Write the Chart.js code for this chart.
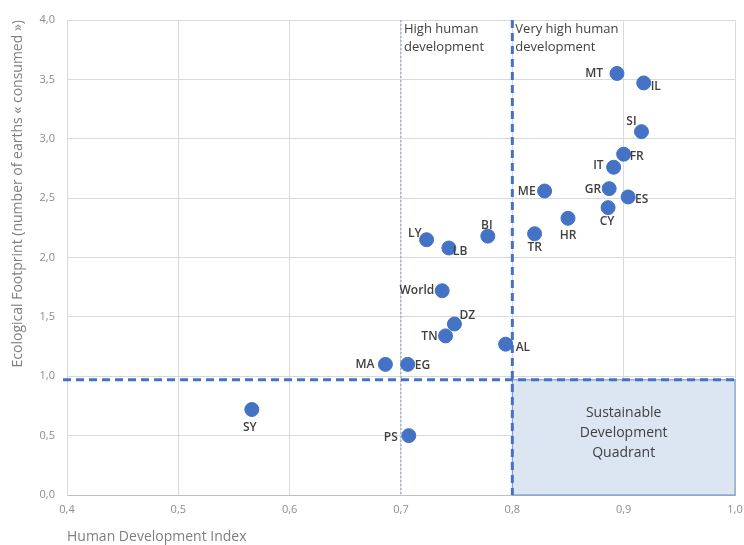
<!DOCTYPE html>
<html>
<head>
<meta charset="utf-8">
<script src="https://cdn.jsdelivr.net/npm/chart.js@4.4.1/dist/chart.umd.min.js"></script>
<style>
  html, body { margin: 0; padding: 0; background: #ffffff; }
  #wrap { width: 744px; height: 545px; }
</style>
</head>
<body>
<div id="wrap"><canvas id="hdiChart" width="744" height="545"></canvas></div>
<script>
// Country codes, Human Development Index and Ecological Footprint (earths)
const countries = ['MT', 'IL', 'SI', 'FR', 'IT', 'GR', 'ES', 'CY', 'ME', 'HR', 'TR',
                   'BI', 'LY', 'LB', 'World', 'DZ', 'TN', 'AL', 'MA', 'EG', 'SY', 'PS'];
const hdi = [0.894, 0.918, 0.916, 0.900, 0.891, 0.887, 0.904, 0.886, 0.829, 0.850, 0.820,
             0.778, 0.723, 0.743, 0.737, 0.748, 0.740, 0.794, 0.686, 0.706, 0.566, 0.707];
const footprint = [3.55, 3.47, 3.06, 2.87, 2.76, 2.58, 2.51, 2.42, 2.56, 2.33, 2.20,
                   2.18, 2.15, 2.08, 1.72, 1.44, 1.34, 1.27, 1.10, 1.10, 0.72, 0.50];

// Thresholds
const highHdi = 0.7;
const veryHighHdi = 0.8;
const earthLimit = 0.97;

const xTicks = [0.4, 0.5, 0.6, 0.7, 0.8, 0.9, 1.0];
const yTicks = [0, 0.5, 1, 1.5, 2, 2.5, 3, 3.5, 4];

const FONT = '"Open Sans", "Noto Sans", sans-serif';
const BLUE = '#4472c4';

// where each label goes relative to its dot
const labelPlace = {
    MT: { dx: -14, dy: 0, align: 'right' },
    IL: { dx: 7, dy: 4, align: 'left' },
    SI: { dx: -10, dy: -10, align: 'center' },
    FR: { dx: 6, dy: 2, align: 'left' },
    IT: { dx: -10, dy: -2, align: 'right' },
    GR: { dx: -8, dy: 1, align: 'right' },
    ES: { dx: 7, dy: 3, align: 'left' },
    CY: { dx: -1, dy: 14, align: 'center' },
    ME: { dx: -9, dy: 1, align: 'right' },
    HR: { dx: 0, dy: 17, align: 'center' },
    TR: { dx: 0, dy: 14, align: 'center' },
    BI: { dx: -1, dy: -11, align: 'center' },
    LY: { dx: -5, dy: -6, align: 'right' },
    LB: { dx: 4, dy: 4, align: 'left' },
    World: { dx: -8, dy: 0, align: 'right' },
    DZ: { dx: 5, dy: -8, align: 'left' },
    TN: { dx: -8, dy: 1, align: 'right' },
    AL: { dx: 10, dy: 3, align: 'left' },
    MA: { dx: -11, dy: 0, align: 'right' },
    EG: { dx: 7, dy: 1, align: 'left' },
    SY: { dx: -2, dy: 18, align: 'center' },
    PS: { dx: -11, dy: 2, align: 'right' }
};

const fmt = v => v.toFixed(1).replace('.', ',');

const quadrantPlugin = {
    id: 'quadrants',
    beforeDatasetsDraw(chart) {
        const { ctx, chartArea, scales: { x, y } } = chart;
        ctx.save();
        // sustainable development quadrant
        const qx = x.getPixelForValue(veryHighHdi);
        const qy = y.getPixelForValue(earthLimit);
        const qr = x.getPixelForValue(1.0);
        const qb = y.getPixelForValue(0);
        ctx.fillStyle = '#dce6f2';
        ctx.fillRect(qx, qy, qr - qx, qb - qy);
        ctx.strokeStyle = '#6f8fc4';
        ctx.lineWidth = 1;
        ctx.strokeRect(qx, qy, qr - qx, qb - qy);

        // high human development (dotted)
        const hx = x.getPixelForValue(highHdi);
        ctx.strokeStyle = '#8a9cba';
        ctx.lineWidth = 1;
        ctx.setLineDash([2, 2]);
        ctx.beginPath();
        ctx.moveTo(hx, chartArea.top);
        ctx.lineTo(hx, chartArea.bottom);
        ctx.stroke();

        // very high human development (dashed)
        ctx.strokeStyle = BLUE;
        ctx.lineWidth = 3;
        ctx.setLineDash([8, 5]);
        ctx.beginPath();
        ctx.moveTo(qx, chartArea.top);
        ctx.lineTo(qx, chartArea.bottom);
        ctx.stroke();

        // one earth line
        ctx.beginPath();
        ctx.moveTo(chartArea.left - 4, qy);
        ctx.lineTo(qr, qy);
        ctx.stroke();
        ctx.restore();
    },
    afterDatasetsDraw(chart) {
        const { ctx, chartArea, scales: { x, y } } = chart;
        const meta = chart.getDatasetMeta(0);
        ctx.save();
        ctx.fillStyle = '#404040';
        ctx.textBaseline = 'middle';
        ctx.font = '600 12px ' + FONT;
        meta.data.forEach((pt, i) => {
            const p = labelPlace[countries[i]] || { dx: 8, dy: 0, align: 'left' };
            ctx.textAlign = p.align;
            ctx.fillText(countries[i], pt.x + p.dx, pt.y + p.dy);
        });

        // zone headings
        ctx.font = '13px ' + FONT;
        ctx.textAlign = 'left';
        const hx = x.getPixelForValue(highHdi);
        const vx = x.getPixelForValue(veryHighHdi);
        ctx.fillText('High human', hx + 3, chartArea.top + 9);
        ctx.fillText('development', hx + 3, chartArea.top + 27);
        ctx.fillText('Very high human', vx + 3, chartArea.top + 9);
        ctx.fillText('development', vx + 3, chartArea.top + 27);

        // quadrant caption
        ctx.font = '14px ' + FONT;
        ctx.textAlign = 'center';
        const cx = (x.getPixelForValue(veryHighHdi) + x.getPixelForValue(1.0)) / 2;
        const cy = (y.getPixelForValue(earthLimit) + y.getPixelForValue(0)) / 2;
        ctx.fillText('Sustainable', cx, cy - 24);
        ctx.fillText('Development', cx, cy - 4);
        ctx.fillText('Quadrant', cx, cy + 16);
        ctx.restore();
    }
};

const chartCtx = document.getElementById('hdiChart').getContext('2d');
const hdiChart = new Chart(chartCtx, {
    type: 'scatter',
    data: {
        datasets: [{
            label: 'Countries',
            data: hdi.map((v, i) => ({ x: v, y: footprint[i] })),
            backgroundColor: BLUE,
            borderColor: BLUE,
            pointRadius: 7,
            pointHoverRadius: 7
        }]
    },
    options: {
        responsive: false,
        animation: false,
        devicePixelRatio: 1,
        layout: { padding: { top: 20, right: 0, left: 0, bottom: 0 } },
        plugins: {
            legend: { display: false },
            tooltip: { enabled: false }
        },
        scales: {
            x: {
                type: 'linear',
                min: 0.4,
                max: 1.0,
                afterBuildTicks: s => { s.ticks = xTicks.map(v => ({ value: v })); },
                afterFit: s => { s.height = 50; s.paddingRight = 9; s.paddingLeft = 0; },
                grid: { color: '#d9d9d9', drawTicks: false },
                border: { color: '#bfbfbf' },
                ticks: {
                    padding: 8,
                    color: '#8c8c8c',
                    font: { family: FONT, size: 11 },
                    callback: v => fmt(v)
                },
                title: {
                    display: true,
                    text: 'Human Development Index',
                    align: 'start',
                    color: '#7f7f7f',
                    font: { family: FONT, size: 14 },
                    padding: { top: 10, bottom: 0 }
                }
            },
            y: {
                type: 'linear',
                min: 0,
                max: 4,
                afterBuildTicks: s => { s.ticks = yTicks.map(v => ({ value: v })); },
                afterFit: s => { s.width = 67; },
                grid: { color: '#d9d9d9', drawTicks: false },
                border: { color: '#d9d9d9' },
                ticks: {
                    padding: 12,
                    color: '#8c8c8c',
                    font: { family: FONT, size: 11 },
                    callback: v => fmt(v)
                },
                title: {
                    display: true,
                    text: 'Ecological Footprint (number of earths « consumed »)',
                    align: 'end',
                    color: '#7f7f7f',
                    font: { family: FONT, size: 14 },
                    padding: { top: 10, bottom: 0 }
                }
            }
        }
    },
    plugins: [quadrantPlugin]
});
</script>
</body>
</html>
